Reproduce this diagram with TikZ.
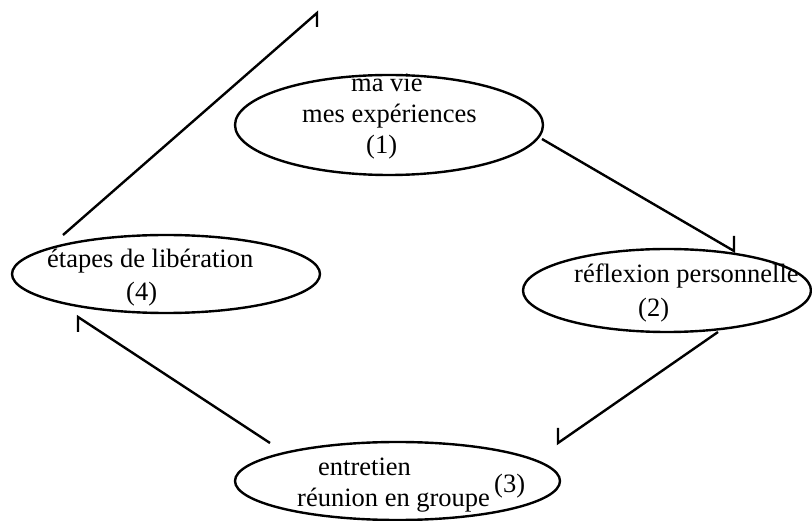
\documentclass[tikz,border=0pt]{standalone}
\usepackage{fontspec}
\setmainfont{Liberation Serif}
\usetikzlibrary{shapes.geometric}

\begin{document}
\begin{tikzpicture}[x=1pt,y=-1pt,
  stage/.style={ellipse, draw, line width=2.4pt, inner sep=0pt},
  txt/.style={anchor=base west, inner sep=0pt, font=\fontsize{26.5}{31}\selectfont},
  flow/.style={line width=2.4pt, line join=miter}]

  % page frame
  \fill[white] (0,0) rectangle (812,521);
  \useasboundingbox (0,0) rectangle (812,521);

  % the four stages of the cycle
  \node[stage, minimum width=308pt, minimum height=100pt] (e1) at (389,125) {};
  \node[stage, minimum width=288pt, minimum height=83pt]  (e2) at (667,290.5) {};
  \node[stage, minimum width=325pt, minimum height=78pt]  (e3) at (397.5,481) {};
  \node[stage, minimum width=308pt, minimum height=78pt]  (e4) at (166,274) {};

  % stage texts
  \node[txt] (t1a) at (351,92)  {ma vie};
  \node[txt] (t1b) at (302,123) {mes expériences};
  \node[txt] (t1c) at (366,154) {(1)};

  \node[txt] (t2a) at (574,283) {réflexion personnelle};
  \node[txt] (t2b) at (638,317) {(2)};

  \node[txt] (t3a) at (318,475.5) {entretien};
  \node[txt] (t3b) at (297,506.5) {réunion en groupe};
  \node[txt] (t3c) at (494,493) {(3)};

  \node[txt] (t4a) at (47,267.5) {étapes de libération};
  \node[txt] (t4b) at (126,301) {(4)};

  % connector ends
  \coordinate (s12) at (542,139);
  \coordinate (d12) at (734,251);
  \coordinate (s23) at (718,332);
  \coordinate (d23) at (558,443);
  \coordinate (s34) at (270,443);
  \coordinate (d34) at (78,317);
  \coordinate (s41) at (63,235);
  \coordinate (d41) at (317,13);

  % connectors, each ending in a single straight barb
  \draw[flow] (s12) -- (d12) -- ++(0,-15);
  \draw[flow] (s23) -- (d23) -- ++(0,-15);
  \draw[flow] (s34) -- (d34) -- ++(0,15);
  \draw[flow] (s41) -- (d41) -- ++(0,14);
\end{tikzpicture}
\end{document}
